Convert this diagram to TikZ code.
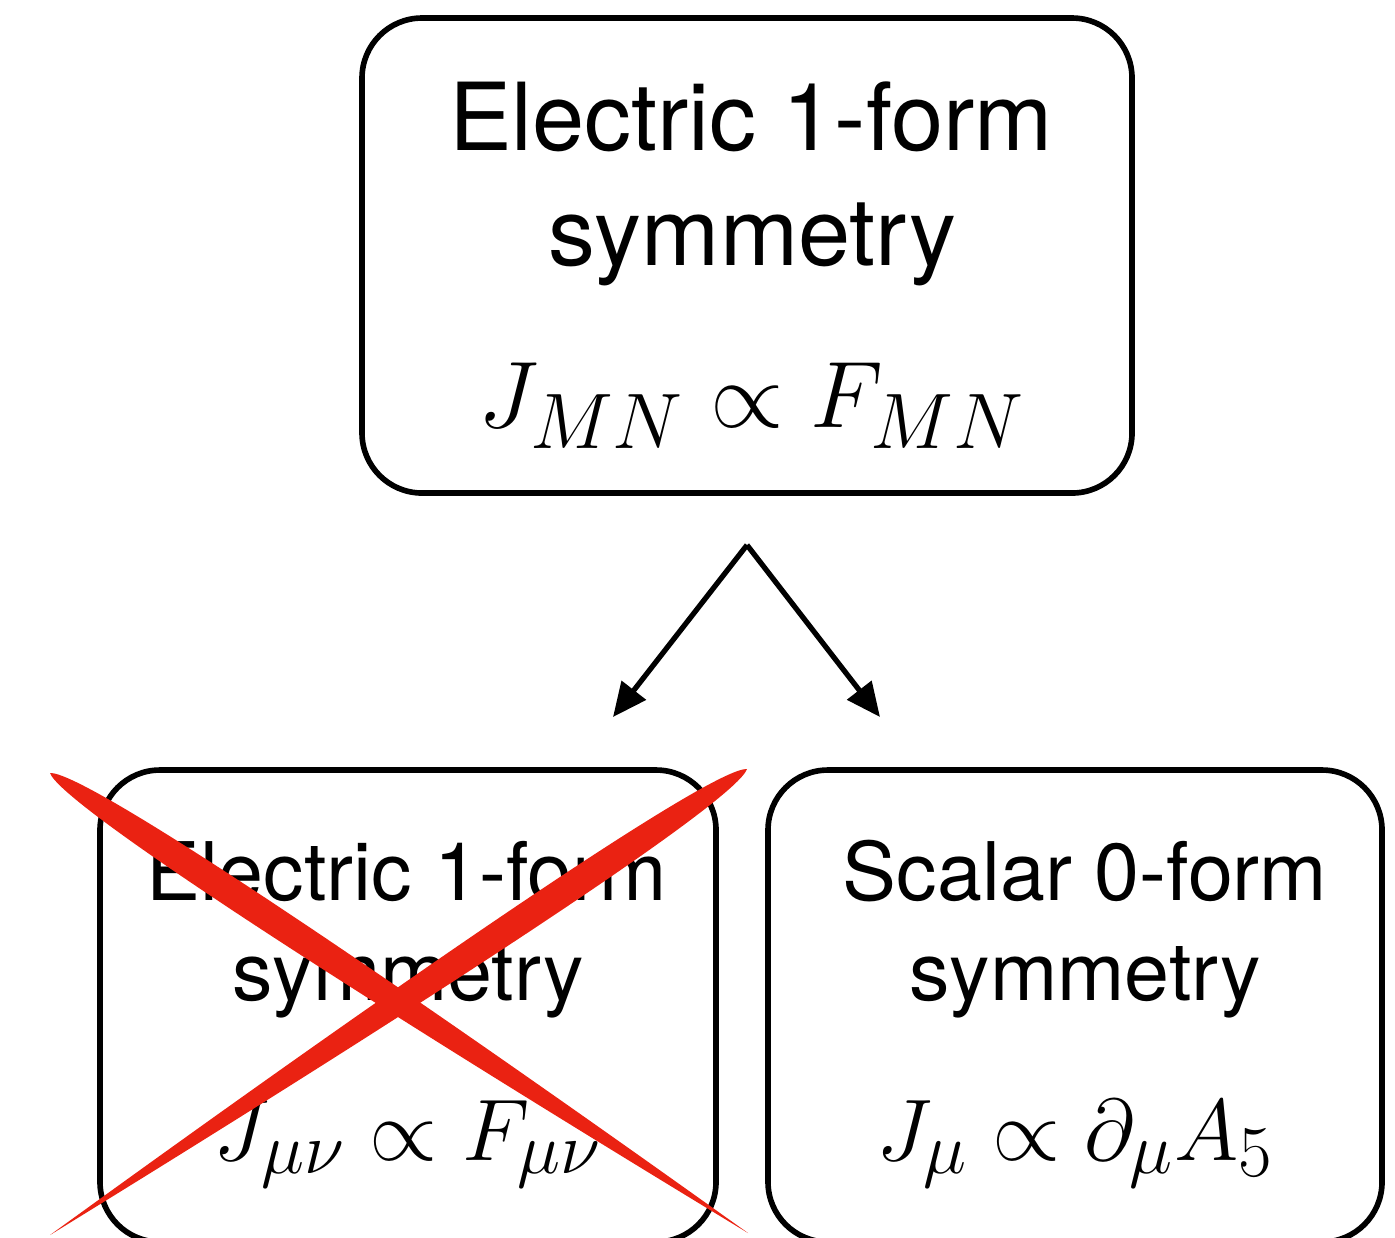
\documentclass[tikz,border=0pt]{standalone}
\usepackage{fontspec}
\setmainfont{TeX Gyre Heros}
\usetikzlibrary{arrows.meta,calc}
\definecolor{crossred}{RGB}{234,34,18}

\begin{document}
\begin{tikzpicture}[
    symbox/.style={draw, line width=1.6pt, rounded corners=6mm, inner sep=0pt},
    bigtext/.style={anchor=base, inner sep=0pt, font=\fontsize{26.7}{30}\selectfont},
    smalltext/.style={anchor=base, inner sep=0pt, font=\fontsize{23}{27}\selectfont},
    mathtext/.style={anchor=base, inner sep=0pt, font=\fontsize{29.86}{35}\selectfont},
    arr/.style={-{Triangle[length=3.4mm,width=3mm]}, line width=1.5pt}
  ]
    \useasboundingbox (0,0) rectangle (13.95,-12.37);
    \clip (0,0) rectangle (13.95,-12.37);

    %% ---- Top box: 5d symmetry ----
    \node[symbox, minimum width=7.70cm, minimum height=4.75cm] (top) at (7.47,-2.555) {};
    \node[bigtext] (toptitle) at (7.51,-1.50) {Electric 1-form};
    \node[bigtext] (topsym)   at (7.52,-2.65) {symmetry};
    \node[mathtext] (topeq)   at (7.52,-4.27) {\scalebox{1.08}{$J_{MN}\propto F_{MN}$}};

    %% ---- Splitting arrows ----
    \coordinate (split) at (7.47,-5.45);
    \coordinate (toleft) at (6.13,-7.17);
    \coordinate (toright) at (8.80,-7.17);
    \draw[arr] (split) -- (toleft);
    \draw[arr] (split) -- (toright);

    %% ---- Bottom left: lost 1-form symmetry ----
    \node[symbox, minimum width=6.16cm, minimum height=4.72cm] (left) at (4.08,-10.06) {};
    \node[smalltext] (lefttitle) at (4.07,-9.00)  {Electric 1-form};
    \node[smalltext] (leftsym)   at (4.08,-10.00) {symmetry};
    \node[mathtext] (lefteq)     at (4.08,-11.60) {$J_{\mu\nu}\propto F_{\mu\nu}$};

    %% ---- Bottom right: 0-form symmetry ----
    \node[symbox, minimum width=6.14cm, minimum height=4.72cm] (right) at (10.75,-10.06) {};
    \node[smalltext] (righttitle) at (10.85,-9.00)  {Scalar 0-form};
    \node[smalltext] (rightsym)   at (10.85,-10.00) {symmetry};
    \node[mathtext] (righteq)     at (10.75,-11.60) {$J_{\mu}\propto \partial_{\mu}A_5$};

    %% ---- Red cross over the left box ----
    \coordinate (xa1) at (0.50,-7.73);
    \coordinate (xb1) at (7.48,-12.33);
    \coordinate (xa2) at (7.47,-7.69);
    \coordinate (xb2) at (0.50,-12.35);
    \fill[crossred] (xa1) .. controls ($(xa1)!0.03!(xb1)!0.19cm!90:(xb1)$) and ($(xa1)!0.4!(xb1)!0.19cm!90:(xb1)$) .. (xb1)
      .. controls ($(xa1)!0.4!(xb1)!0.19cm!-90:(xb1)$) and ($(xa1)!0.03!(xb1)!0.19cm!-90:(xb1)$) .. (xa1) -- cycle;
    \fill[crossred] (xa2) .. controls ($(xa2)!0.03!(xb2)!0.19cm!90:(xb2)$) and ($(xa2)!0.4!(xb2)!0.19cm!90:(xb2)$) .. (xb2)
      .. controls ($(xa2)!0.4!(xb2)!0.19cm!-90:(xb2)$) and ($(xa2)!0.03!(xb2)!0.19cm!-90:(xb2)$) .. (xa2) -- cycle;
\end{tikzpicture}
\end{document}
